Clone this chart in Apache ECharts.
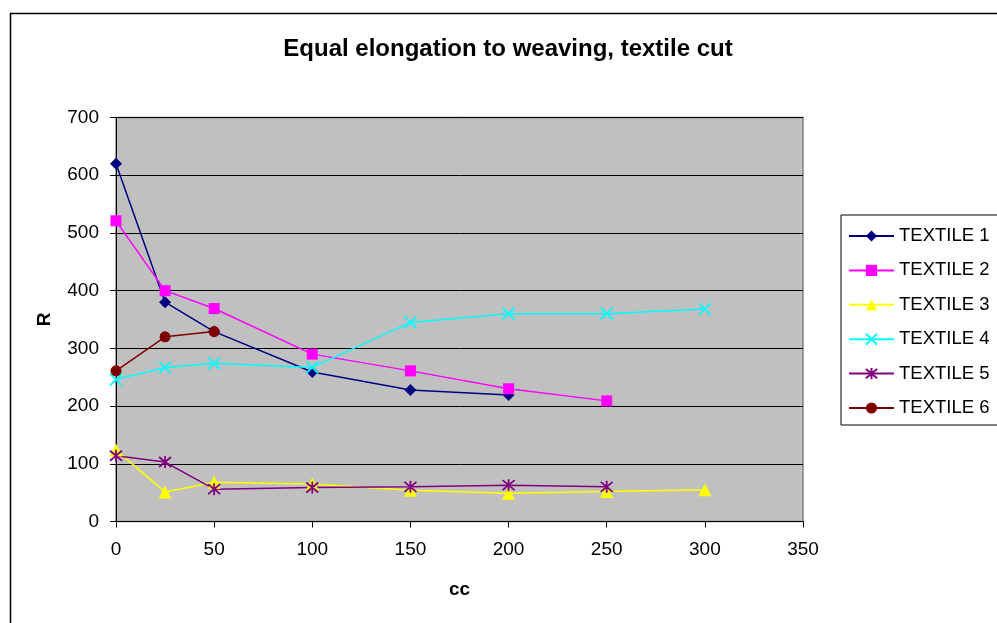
<!DOCTYPE html>
<html>
<head>
<meta charset="utf-8">
<script src="https://cdn.jsdelivr.net/npm/echarts@6/dist/echarts.min.js"></script>
<style>html,body{margin:0;padding:0;background:#fff}#c{width:997px;height:623px}</style>
</head>
<body>
<div id="c"></div>
<script>
var chartTitle = 'Equal elongation to weaving, textile cut';
var seriesNames = ['TEXTILE 1','TEXTILE 2','TEXTILE 3','TEXTILE 4','TEXTILE 5','TEXTILE 6'];
var cc1 = [0,25,50,100,150,200];
var r1  = [620,380,329,259,228,219];
var cc2 = [0,25,50,100,150,200,250];
var r2  = [521,400,369,290,261,230,209];
var cc3 = [0,25,50,100,150,200,250,300];
var r3  = [124,51,68,65,54,49,52,55];
var cc4 = [0,25,50,100,150,200,250,300];
var r4  = [246,267,274,267,345,360,360,368];
var cc5 = [0,25,50,100,150,200,250];
var r5  = [114,103,56,59,60,63,60];
var cc6 = [0,25,50];
var r6  = [261,320,329];
var colors = ['#000080','#FF00FF','#FFFF00','#00FFFF','#800080','#800000'];

function pairs(xs, ys){ return xs.map(function(x,i){ return [x, ys[i]]; }); }

var font = "'Liberation Sans', Arial, sans-serif";
var symbols = [
  {symbol:'diamond', size:12},
  {symbol:'rect', size:11},
  {symbol:'triangle', size:13},
  {symbol:'path://M0,0 L10,10 M10,0 L0,10', size:12, stroke:true},
  {symbol:'path://M0,0 L10,10 M10,0 L0,10 M5,-1 L5,11', size:12, stroke:true},
  {symbol:'circle', size:11}
];
var data = [pairs(cc1,r1),pairs(cc2,r2),pairs(cc3,r3),pairs(cc4,r4),pairs(cc5,r5),pairs(cc6,r6)];

var series = data.map(function(d,i){
  var s = symbols[i];
  return {
    name: seriesNames[i],
    type: 'line',
    data: d,
    symbol: s.symbol,
    symbolSize: s.size,
    showAllSymbol: true,
    animation: false,
    lineStyle: {color: colors[i], width: 1.5},
    itemStyle: s.stroke ? {color: colors[i], borderColor: colors[i], borderWidth: 1.8} : {color: colors[i], borderWidth: 0},
    emphasis: {disabled: true}
  };
});

var chart = echarts.init(document.getElementById('c'), null, {renderer:'canvas'});
chart.setOption({
  animation: false,
  backgroundColor: '#fff',
  graphic: [{
    type: 'rect', left: 8, top: 11, z: -1,
    shape: {width: 1100, height: 700},
    style: {fill: 'none', stroke: '#000', lineWidth: 1.5}
  }, {
    type: 'text', x: 508, y: 49, z: 10,
    style: {text: chartTitle, font: 'bold 24px ' + font, fill: '#000', textAlign: 'center', textVerticalAlign: 'middle'}
  }],
  grid: {
    left: 116, top: 117.5, right: 194, bottom: 101.5,
    show: true, backgroundColor: '#C0C0C0', borderColor: '#808080', borderWidth: 1.5
  },
  legend: {
    orient: 'vertical',
    left: 841, top: 215,
    padding: [11, 40, 7, 7],
    itemWidth: 45, itemHeight: 14, itemGap: 14.4,
    borderColor: '#000', borderWidth: 1, backgroundColor: '#fff',
    textStyle: {fontFamily: font, fontSize: 18.5, color: '#000', lineHeight: 20},
    data: seriesNames
  },
  xAxis: {
    type: 'value', min: 0, max: 350, interval: 50,
    name: 'cc', nameLocation: 'middle', nameGap: 59,
    nameTextStyle: {fontFamily: font, fontSize: 19, fontWeight: 'bold', color: '#000'},
    axisLine: {show: true, onZero: false, lineStyle: {color: '#000', width: 1}},
    axisTick: {show: true, length: 6, lineStyle: {color: '#000'}},
    axisLabel: {fontFamily: font, fontSize: 19, color: '#000', margin: 19},
    splitLine: {show: false}
  },
  yAxis: {
    type: 'value', min: 0, max: 700, interval: 100,
    name: 'R', nameLocation: 'middle', nameGap: 62, nameRotate: 90,
    nameTextStyle: {fontFamily: font, fontSize: 19, fontWeight: 'bold', color: '#000'},
    axisLine: {show: true, lineStyle: {color: '#000', width: 1}},
    axisTick: {show: true, length: 6, lineStyle: {color: '#000'}},
    axisLabel: {fontFamily: font, fontSize: 19, color: '#000', margin: 17},
    splitLine: {show: true, lineStyle: {color: '#000', width: 1}}
  },
  series: series
});
</script>
</body>
</html>
